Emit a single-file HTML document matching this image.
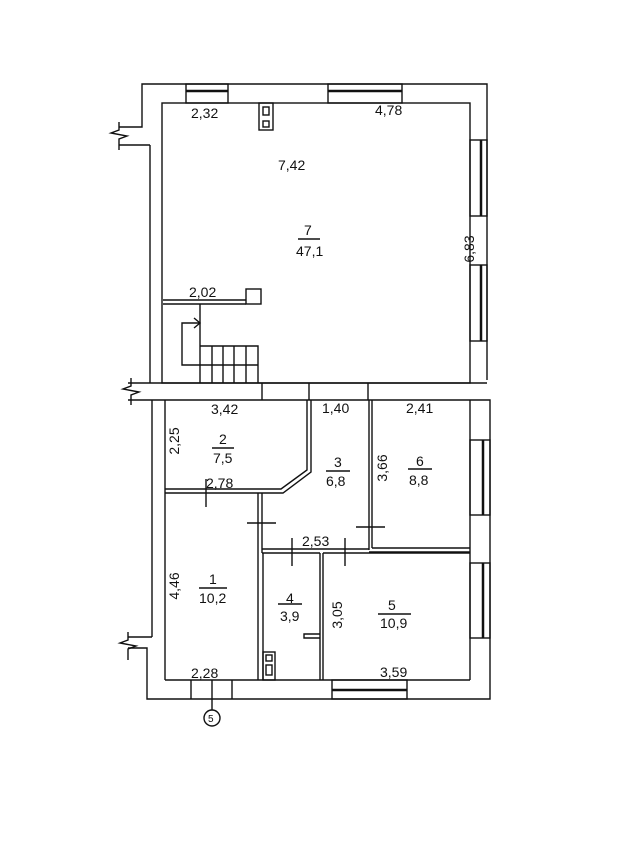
<!DOCTYPE html>
<html><head><meta charset="utf-8"><style>
body{margin:0;background:#fff}
svg{display:block}
text{font-family:"Liberation Sans",sans-serif;font-size:14px;fill:#111}
</style></head><body>
<svg width="633" height="842" viewBox="0 0 633 842" fill="none" stroke="#111" stroke-width="1.4">
<polyline points="119,127 142,127 142,84 487,84 487,380"/>
<polyline points="487,400 490,400 490,699 147,699 147,648 128,648"/>
<line x1="119" y1="145" x2="150" y2="145"/>
<line x1="150" y1="145" x2="150" y2="383"/>
<line x1="128" y1="637" x2="152" y2="637"/>
<line x1="152" y1="400" x2="152" y2="637"/>
<line x1="128" y1="383" x2="487" y2="383"/>
<line x1="128" y1="400" x2="487" y2="400"/>
<polyline points="119,122 119,130 111,133 127,136 119,139 119,150"/>
<polyline points="131,378 131,386 123,389 139,392 131,395 131,405"/>
<polyline points="128,632 128,640 120,643 136,646 128,649 128,660"/>
<rect x="162" y="103" width="308" height="280"/>
<rect x="186" y="84" width="42" height="19"/><line x1="186" y1="91" x2="228" y2="91" stroke-width="2.5"/>
<rect x="328" y="84" width="74" height="19"/><line x1="328" y1="91" x2="402" y2="91" stroke-width="2.5"/>
<rect x="470" y="140" width="17" height="76"/><line x1="481" y1="140" x2="481" y2="216" stroke-width="2.5"/>
<rect x="470" y="265" width="17" height="76"/><line x1="481" y1="265" x2="481" y2="341" stroke-width="2.5"/>
<rect x="470" y="440" width="20" height="75"/><line x1="483" y1="440" x2="483" y2="515" stroke-width="2.5"/>
<rect x="470" y="563" width="20" height="75"/><line x1="483" y1="563" x2="483" y2="638" stroke-width="2.5"/>
<rect x="332" y="680" width="75" height="19"/><line x1="332" y1="690" x2="407" y2="690" stroke-width="2.5"/>
<line x1="191" y1="680" x2="191" y2="699"/><line x1="232" y1="680" x2="232" y2="699"/>
<rect x="259" y="103" width="14" height="27"/>
<rect x="263" y="107" width="6" height="8"/><rect x="263" y="121" width="6" height="6"/>
<line x1="163" y1="300" x2="246" y2="300"/><line x1="163" y1="304" x2="246" y2="304"/>
<rect x="246" y="289" width="15" height="15"/>
<line x1="200" y1="304" x2="200" y2="383"/>
<polyline points="200,346 258,346 258,383"/>
<line x1="200" y1="365" x2="258" y2="365"/>
<line x1="212" y1="346" x2="212" y2="383"/><line x1="223" y1="346" x2="223" y2="383"/><line x1="234" y1="346" x2="234" y2="383"/><line x1="246" y1="346" x2="246" y2="383"/>
<polyline points="200,365 182,365 182,323 200,323"/><polyline points="194,318 200,323 194,328"/>
<line x1="262" y1="383" x2="262" y2="400"/><line x1="309" y1="383" x2="309" y2="400"/><line x1="368" y1="383" x2="368" y2="400"/>
<line x1="165" y1="400" x2="165" y2="680"/>
<line x1="165" y1="680" x2="470" y2="680"/>
<line x1="470" y1="400" x2="470" y2="680"/>
<polyline points="307,400 307,470 281,489 165,489"/>
<polyline points="311,400 311,472 283,493 165,493"/>
<line x1="369" y1="400" x2="369" y2="550"/><line x1="372" y1="400" x2="372" y2="548"/>
<line x1="372" y1="548" x2="470" y2="548"/><line x1="369" y1="552" x2="470" y2="552"/>
<line x1="258" y1="493" x2="258" y2="680"/><line x1="262" y1="493" x2="262" y2="553"/>
<line x1="262" y1="549" x2="369" y2="549"/><line x1="262" y1="553" x2="320" y2="553"/><line x1="323" y1="553" x2="470" y2="553"/>
<line x1="263" y1="553" x2="263" y2="680"/>
<line x1="320" y1="553" x2="320" y2="680"/><line x1="323" y1="553" x2="323" y2="680"/>
<polyline points="320,634 304,634 304,638 320,638"/>
<line x1="206" y1="479" x2="206" y2="507"/><line x1="247" y1="523" x2="276" y2="523"/>
<line x1="356" y1="527" x2="385" y2="527"/>
<line x1="292" y1="538" x2="292" y2="566"/><line x1="345" y1="538" x2="345" y2="566"/>
<rect x="263" y="652" width="12" height="28"/><rect x="266" y="655" width="6" height="6"/><rect x="266" y="665" width="6" height="10"/>
<line x1="212" y1="680" x2="212" y2="710"/>
<circle cx="212" cy="718" r="8"/>
<line x1="298" y1="239" x2="320" y2="239"/><line x1="212" y1="448" x2="234" y2="448"/>
<line x1="326" y1="471" x2="350" y2="471"/><line x1="408" y1="469" x2="432" y2="469"/>
<line x1="199" y1="588" x2="227" y2="588"/><line x1="278" y1="604" x2="302" y2="604"/><line x1="378" y1="614" x2="411" y2="614"/>
<g stroke="none">
<text x="191" y="118">2,32</text><text x="375" y="115">4,78</text>
<text x="278" y="170">7,42</text>
<text x="304" y="235">7</text><text x="296" y="256">47,1</text>
<text x="474" y="249" transform="rotate(-90 474 249)" text-anchor="middle">6,83</text>
<text x="189" y="297">2,02</text>
<text x="211" y="414">3,42</text><text x="322" y="413">1,40</text><text x="406" y="413">2,41</text>
<text x="179" y="441" transform="rotate(-90 179 441)" text-anchor="middle">2,25</text>
<text x="219" y="444">2</text><text x="213" y="463">7,5</text>
<text x="206" y="488">2,78</text>
<text x="334" y="467">3</text><text x="326" y="486">6,8</text>
<text x="387" y="468" transform="rotate(-90 387 468)" text-anchor="middle">3,66</text>
<text x="416" y="466">6</text><text x="409" y="485">8,8</text>
<text x="302" y="546">2,53</text>
<text x="179" y="586" transform="rotate(-90 179 586)" text-anchor="middle">4,46</text>
<text x="209" y="584">1</text><text x="199" y="603">10,2</text>
<text x="286" y="603">4</text><text x="280" y="621">3,9</text>
<text x="388" y="610">5</text><text x="380" y="628">10,9</text>
<text x="342" y="615" transform="rotate(-90 342 615)" text-anchor="middle">3,05</text>
<text x="191" y="678">2,28</text><text x="380" y="677">3,59</text>
<text x="208" y="722" style="font-size:10px">5</text>
</g>
</svg>
</body></html>
